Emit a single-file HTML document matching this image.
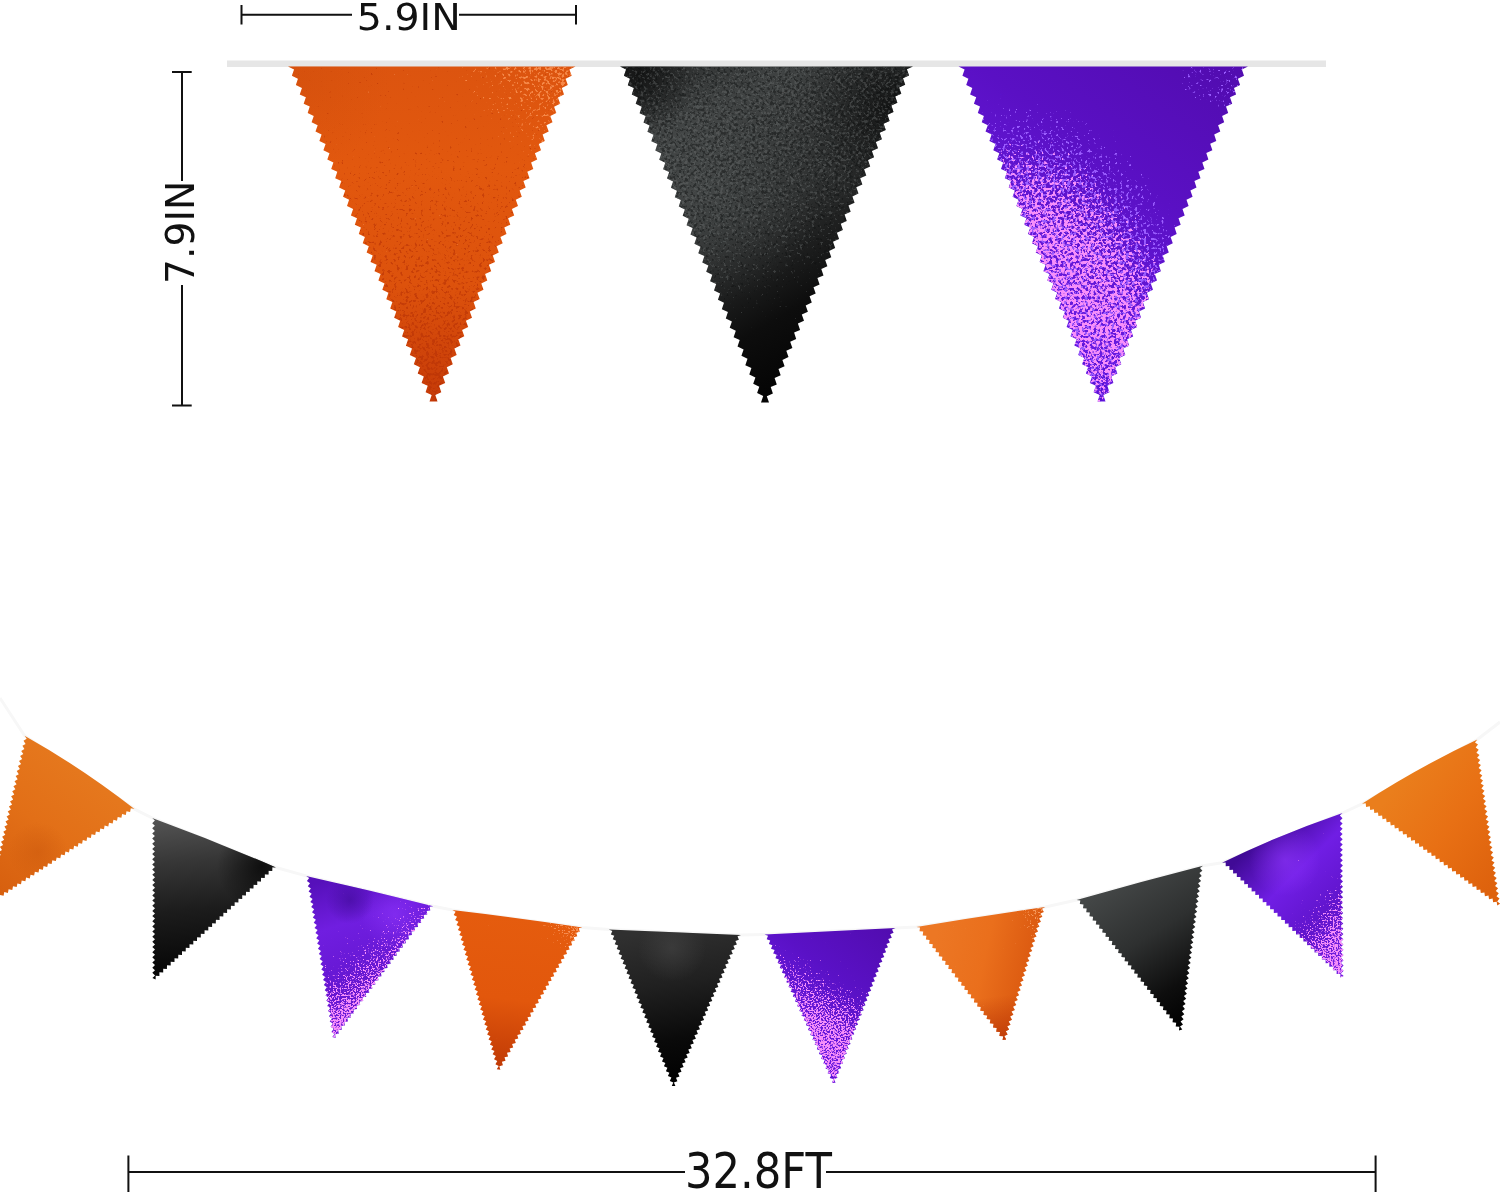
<!DOCTYPE html>
<html lang="en"><head><meta charset="utf-8"><title>Halloween pennant banner size</title>
<style>
html,body{margin:0;padding:0;background:#fff}
body{width:1500px;height:1195px;overflow:hidden;font-family:"DejaVu Sans","Liberation Sans",sans-serif}
svg{display:block}
text{font-family:"DejaVu Sans","Liberation Sans",sans-serif;fill:#111}
.ln{stroke:#111;stroke-width:2;fill:none}
</style></head><body>
<svg width="1500" height="1195" viewBox="0 0 1500 1195">
<defs>
<filter id="spkA" x="0" y="0" width="100%" height="100%" color-interpolation-filters="sRGB"><feTurbulence type="fractalNoise" baseFrequency="0.34" numOctaves="2" seed="7" result="n"/><feColorMatrix in="n" type="matrix" values="0 0 0 0 0  0 0 0 0 0  0 0 0 0 0  1 0 0 0 0" result="na"/><feComposite in="SourceAlpha" in2="na" operator="arithmetic" k1="0" k2="1" k3="1.0" k4="-0.5" result="t"/><feComponentTransfer in="t" result="th"><feFuncA type="linear" slope="9" intercept="-4"/></feComponentTransfer><feColorMatrix in="SourceGraphic" type="matrix" values="1 0 0 0 0  0 1 0 0 0  0 0 1 0 0  0 0 0 100 0" result="solid"/><feComposite in="solid" in2="th" operator="in"/></filter>
<filter id="spkB" x="0" y="0" width="100%" height="100%" color-interpolation-filters="sRGB"><feTurbulence type="fractalNoise" baseFrequency="0.34" numOctaves="2" seed="21" result="n"/><feColorMatrix in="n" type="matrix" values="0 0 0 0 0  0 0 0 0 0  0 0 0 0 0  1 0 0 0 0" result="na"/><feComposite in="SourceAlpha" in2="na" operator="arithmetic" k1="0" k2="1" k3="1.0" k4="-0.5" result="t"/><feComponentTransfer in="t" result="th"><feFuncA type="linear" slope="9" intercept="-4"/></feComponentTransfer><feColorMatrix in="SourceGraphic" type="matrix" values="1 0 0 0 0  0 1 0 0 0  0 0 1 0 0  0 0 0 100 0" result="solid"/><feComposite in="solid" in2="th" operator="in"/></filter>
<filter id="spkS" x="0" y="0" width="100%" height="100%" color-interpolation-filters="sRGB"><feTurbulence type="fractalNoise" baseFrequency="0.6" numOctaves="2" seed="11" result="n"/><feColorMatrix in="n" type="matrix" values="0 0 0 0 0  0 0 0 0 0  0 0 0 0 0  1 0 0 0 0" result="na"/><feComposite in="SourceAlpha" in2="na" operator="arithmetic" k1="0" k2="1" k3="1.0" k4="-0.5" result="t"/><feComponentTransfer in="t" result="th"><feFuncA type="linear" slope="9" intercept="-4"/></feComponentTransfer><feColorMatrix in="SourceGraphic" type="matrix" values="1 0 0 0 0  0 1 0 0 0  0 0 1 0 0  0 0 0 100 0" result="solid"/><feComposite in="solid" in2="th" operator="in"/></filter>
<filter id="spkW" x="0" y="0" width="100%" height="100%" color-interpolation-filters="sRGB"><feTurbulence type="fractalNoise" baseFrequency="0.34" numOctaves="2" seed="7" result="n"/><feColorMatrix in="n" type="matrix" values="0 0 0 0 0  0 0 0 0 0  0 0 0 0 0  1 0 0 0 0" result="na"/><feComposite in="SourceAlpha" in2="na" operator="arithmetic" k1="0" k2="1" k3="1.35" k4="-0.675" result="t"/><feComponentTransfer in="t" result="th"><feFuncA type="linear" slope="9" intercept="-4"/></feComponentTransfer><feColorMatrix in="SourceGraphic" type="matrix" values="1 0 0 0 0  0 1 0 0 0  0 0 1 0 0  0 0 0 100 0" result="solid"/><feComposite in="solid" in2="th" operator="in"/></filter>
<filter id="spkV" x="0" y="0" width="100%" height="100%" color-interpolation-filters="sRGB"><feTurbulence type="fractalNoise" baseFrequency="0.34" numOctaves="2" seed="33" result="n"/><feColorMatrix in="n" type="matrix" values="0 0 0 0 0  0 0 0 0 0  0 0 0 0 0  1 0 0 0 0" result="na"/><feComposite in="SourceAlpha" in2="na" operator="arithmetic" k1="0" k2="1" k3="1.35" k4="-0.675" result="t"/><feComponentTransfer in="t" result="th"><feFuncA type="linear" slope="9" intercept="-4"/></feComponentTransfer><feColorMatrix in="SourceGraphic" type="matrix" values="1 0 0 0 0  0 1 0 0 0  0 0 1 0 0  0 0 0 100 0" result="solid"/><feComposite in="solid" in2="th" operator="in"/></filter>
<path id="b1" d="M288.0 66.5L575.5 66.5L569.4 69.4L571.7 75.8L565.6 78.7L567.8 85.1L561.8 88.0L564.0 94.4L557.9 97.4L560.2 103.7L554.1 106.7L556.3 113.0L550.3 116.0L552.5 122.3L546.4 125.3L548.7 131.6L542.6 134.6L544.8 140.9L538.8 143.9L541.0 150.2L534.9 153.2L537.2 159.5L531.1 162.5L533.3 168.9L527.3 171.8L529.5 178.2L523.4 181.1L525.7 187.5L519.6 190.4L521.8 196.8L515.8 199.7L518.0 206.1L511.9 209.0L514.2 215.4L508.1 218.3L510.3 224.7L504.3 227.6L506.5 234.0L500.4 236.9L502.7 243.3L496.6 246.2L498.8 252.6L492.8 255.5L495.0 261.9L488.9 264.8L491.2 271.2L485.1 274.1L487.3 280.5L481.3 283.5L483.5 289.8L477.4 292.8L479.7 299.1L473.6 302.1L475.8 308.4L469.8 311.4L472.0 317.7L465.9 320.7L468.2 327.0L462.1 330.0L464.3 336.3L458.3 339.3L460.5 345.6L454.4 348.6L456.7 355.0L450.6 357.9L452.8 364.3L446.8 367.2L449.0 373.6L442.9 376.5L445.2 382.9L439.1 385.8L441.3 392.2L435.3 395.1L437.5 401.5L429.5 401.5L431.7 395.1L425.6 392.2L427.7 385.8L421.6 382.9L423.8 376.5L417.7 373.6L419.9 367.2L413.8 364.3L416.0 357.9L409.8 355.0L412.0 348.6L405.9 345.7L408.1 339.3L402.0 336.4L404.2 330.0L398.1 327.1L400.2 320.7L394.1 317.8L396.3 311.4L390.2 308.5L392.4 302.1L386.3 299.2L388.4 292.7L382.3 289.8L384.5 283.4L378.4 280.5L380.6 274.1L374.5 271.2L376.7 264.8L370.5 261.9L372.7 255.5L366.6 252.6L368.8 246.2L362.7 243.3L364.9 236.9L358.8 234.0L360.9 227.6L354.8 224.7L357.0 218.3L350.9 215.4L353.1 209.0L347.0 206.1L349.1 199.7L343.0 196.8L345.2 190.4L339.1 187.5L341.3 181.1L335.2 178.2L337.3 171.8L331.2 168.9L333.4 162.5L327.3 159.6L329.5 153.2L323.4 150.3L325.6 143.9L319.4 140.9L321.6 134.5L315.5 131.6L317.7 125.2L311.6 122.3L313.8 115.9L307.7 113.0L309.8 106.6L303.7 103.7L305.9 97.3L299.8 94.4L302.0 88.0L295.9 85.1L298.0 78.7L291.9 75.8L294.1 69.4Z"/>
<linearGradient id="b1g" gradientUnits="userSpaceOnUse" x1="433.0" y1="66.0" x2="433.0" y2="402.0"><stop offset="0" stop-color="#dc540f"/><stop offset=".3" stop-color="#e2580e"/><stop offset=".65" stop-color="#dd520c"/><stop offset="1" stop-color="#c53a08"/></linearGradient>
<radialGradient id="b1o0" gradientUnits="userSpaceOnUse" cx="300.0" cy="80.0" r="90.0"><stop offset="0" stop-color="#c84a0a" stop-opacity=".3"/><stop offset="1" stop-color="#c84a0a" stop-opacity="0"/></radialGradient>
<linearGradient id="b1k0" gradientUnits="userSpaceOnUse" x1="575.0" y1="66.0" x2="480.0" y2="140.0"><stop offset="0.000" stop-color="#f58848" stop-opacity="0.47"/><stop offset="0.333" stop-color="#f58848" stop-opacity="0.40"/><stop offset="0.667" stop-color="#f58848" stop-opacity="0.28"/><stop offset="1.000" stop-color="#f58848" stop-opacity="0.12"/></linearGradient>
<linearGradient id="b1k1" gradientUnits="userSpaceOnUse" x1="433.0" y1="120.0" x2="433.0" y2="402.0"><stop offset="0.000" stop-color="#b83206" stop-opacity="0.20"/><stop offset="0.250" stop-color="#b83206" stop-opacity="0.30"/><stop offset="0.500" stop-color="#b83206" stop-opacity="0.36"/><stop offset="0.750" stop-color="#b83206" stop-opacity="0.42"/><stop offset="1.000" stop-color="#b83206" stop-opacity="0.47"/></linearGradient>
<clipPath id="b1c"><use href="#b1"/></clipPath>
<path id="b2" d="M620.0 66.5L913.0 66.5L906.9 69.3L909.1 75.6L903.0 78.3L905.2 84.7L899.1 87.4L901.3 93.7L895.2 96.5L897.4 102.8L891.4 105.6L893.5 111.9L887.5 114.7L889.6 121.0L883.6 123.8L885.8 130.1L879.7 132.8L881.9 139.2L875.8 141.9L878.0 148.2L871.9 151.0L874.1 157.3L868.0 160.1L870.2 166.4L864.1 169.2L866.3 175.5L860.2 178.2L862.4 184.6L856.3 187.3L858.5 193.6L852.4 196.4L854.6 202.7L848.5 205.5L850.7 211.8L844.6 214.6L846.8 220.9L840.8 223.7L842.9 230.0L836.9 232.7L839.1 239.0L833.0 241.8L835.2 248.1L829.1 250.9L831.3 257.2L825.2 260.0L827.4 266.3L821.3 269.1L823.5 275.4L817.4 278.1L819.6 284.5L813.5 287.2L815.7 293.5L809.6 296.3L811.8 302.6L805.7 305.4L807.9 311.7L801.8 314.5L804.0 320.8L797.9 323.6L800.1 329.9L794.1 332.6L796.2 338.9L790.2 341.7L792.4 348.0L786.3 350.8L788.5 357.1L782.4 359.9L784.6 366.2L778.5 369.0L780.7 375.3L774.6 378.0L776.8 384.4L770.7 387.1L772.9 393.4L766.8 396.2L769.0 402.5L761.0 402.5L763.2 396.1L757.1 393.1L759.3 386.7L753.2 383.8L755.4 377.4L749.3 374.5L751.4 368.1L745.3 365.2L747.5 358.7L741.4 355.8L743.6 349.4L737.5 346.5L739.7 340.1L733.6 337.2L735.8 330.7L729.7 327.8L731.9 321.4L725.8 318.5L727.9 312.1L721.8 309.2L724.0 302.7L717.9 299.8L720.1 293.4L714.0 290.5L716.2 284.1L710.1 281.2L712.3 274.7L706.2 271.8L708.4 265.4L702.3 262.5L704.4 256.1L698.3 253.2L700.5 246.7L694.4 243.8L696.6 237.4L690.5 234.5L692.7 228.1L686.6 225.2L688.8 218.8L682.7 215.8L684.9 209.4L678.8 206.5L680.9 200.1L674.8 197.2L677.0 190.8L670.9 187.8L673.1 181.4L667.0 178.5L669.2 172.1L663.1 169.2L665.3 162.8L659.2 159.8L661.4 153.4L655.3 150.5L657.4 144.1L651.3 141.2L653.5 134.8L647.4 131.8L649.6 125.4L643.5 122.5L645.7 116.1L639.6 113.2L641.8 106.8L635.7 103.8L637.9 97.4L631.8 94.5L633.9 88.1L627.8 85.2L630.0 78.8L623.9 75.8L626.1 69.4Z"/>
<linearGradient id="b2g" gradientUnits="userSpaceOnUse" x1="650.0" y1="50.0" x2="850.0" y2="390.0"><stop offset="0" stop-color="#2a2c2c"/><stop offset=".22" stop-color="#3f4242"/><stop offset=".5" stop-color="#2e3030"/><stop offset=".75" stop-color="#0d0d0d"/><stop offset="1" stop-color="#000"/></linearGradient>
<radialGradient id="b2o0" gradientUnits="userSpaceOnUse" cx="705.0" cy="190.0" r="115.0"><stop offset="0" stop-color="#505454" stop-opacity=".5"/><stop offset="1" stop-color="#505454" stop-opacity="0"/></radialGradient>
<radialGradient id="b2o1" gradientUnits="userSpaceOnUse" cx="895.0" cy="105.0" r="95.0"><stop offset="0" stop-color="#000" stop-opacity=".6"/><stop offset="1" stop-color="#000" stop-opacity="0"/></radialGradient>
<radialGradient id="b2o2" gradientUnits="userSpaceOnUse" cx="640.0" cy="75.0" r="60.0"><stop offset="0" stop-color="#0a0a0a" stop-opacity=".7"/><stop offset="1" stop-color="#0a0a0a" stop-opacity="0"/></radialGradient>
<linearGradient id="b2k0" gradientUnits="userSpaceOnUse" x1="700.0" y1="66.0" x2="800.0" y2="330.0"><stop offset="0.000" stop-color="#6a6e6e" stop-opacity="0.40"/><stop offset="0.250" stop-color="#6a6e6e" stop-opacity="0.44"/><stop offset="0.500" stop-color="#6a6e6e" stop-opacity="0.42"/><stop offset="0.750" stop-color="#6a6e6e" stop-opacity="0.32"/><stop offset="1.000" stop-color="#6a6e6e" stop-opacity="0.10"/></linearGradient>
<linearGradient id="b2k1" gradientUnits="userSpaceOnUse" x1="700.0" y1="66.0" x2="800.0" y2="330.0"><stop offset="0.000" stop-color="#0c0e0e" stop-opacity="0.40"/><stop offset="0.250" stop-color="#0c0e0e" stop-opacity="0.44"/><stop offset="0.500" stop-color="#0c0e0e" stop-opacity="0.42"/><stop offset="0.750" stop-color="#0c0e0e" stop-opacity="0.32"/><stop offset="1.000" stop-color="#0c0e0e" stop-opacity="0.10"/></linearGradient>
<clipPath id="b2c"><use href="#b2"/></clipPath>
<path id="b3" d="M958.5 66.5L1248.0 66.5L1241.9 69.4L1244.0 75.8L1237.9 78.7L1240.1 85.1L1234.0 88.0L1236.1 94.4L1230.0 97.3L1232.2 103.7L1226.0 106.6L1228.2 113.0L1222.1 115.9L1224.2 122.3L1218.1 125.2L1220.3 131.6L1214.2 134.5L1216.3 140.9L1210.2 143.8L1212.4 150.3L1206.3 153.1L1208.4 159.6L1202.3 162.5L1204.5 168.9L1198.3 171.8L1200.5 178.2L1194.4 181.1L1196.5 187.5L1190.4 190.4L1192.6 196.8L1186.5 199.7L1188.6 206.1L1182.5 209.0L1184.7 215.4L1178.5 218.3L1180.7 224.7L1174.6 227.6L1176.7 234.0L1170.6 236.9L1172.8 243.3L1166.7 246.2L1168.8 252.6L1162.7 255.5L1164.9 261.9L1158.8 264.8L1160.9 271.2L1154.8 274.1L1157.0 280.5L1150.8 283.4L1153.0 289.8L1146.9 292.7L1149.0 299.2L1142.9 302.0L1145.1 308.5L1139.0 311.4L1141.1 317.8L1135.0 320.7L1137.2 327.1L1131.0 330.0L1133.2 336.4L1127.1 339.3L1129.2 345.7L1123.1 348.6L1125.3 355.0L1119.2 357.9L1121.3 364.3L1115.2 367.2L1117.4 373.6L1111.3 376.5L1113.4 382.9L1107.3 385.8L1109.5 392.2L1103.3 395.1L1105.5 401.5L1097.5 401.5L1099.7 395.1L1093.6 392.2L1095.9 385.8L1089.8 382.9L1092.0 376.5L1085.9 373.6L1088.1 367.2L1082.1 364.3L1084.3 357.9L1078.2 355.0L1080.4 348.6L1074.3 345.6L1076.6 339.3L1070.5 336.3L1072.7 330.0L1066.6 327.0L1068.8 320.7L1062.8 317.7L1065.0 311.4L1058.9 308.4L1061.1 302.1L1055.0 299.1L1057.3 292.7L1051.2 289.8L1053.4 283.4L1047.3 280.5L1049.5 274.1L1043.4 271.2L1045.7 264.8L1039.6 261.9L1041.8 255.5L1035.7 252.6L1037.9 246.2L1031.9 243.3L1034.1 236.9L1028.0 234.0L1030.2 227.6L1024.1 224.7L1026.4 218.3L1020.3 215.4L1022.5 209.0L1016.4 206.1L1018.6 199.7L1012.6 196.8L1014.8 190.4L1008.7 187.5L1010.9 181.1L1004.8 178.2L1007.1 171.8L1001.0 168.9L1003.2 162.5L997.1 159.5L999.3 153.2L993.3 150.2L995.5 143.9L989.4 140.9L991.6 134.6L985.5 131.6L987.8 125.3L981.7 122.3L983.9 116.0L977.8 113.0L980.0 106.6L973.9 103.7L976.2 97.3L970.1 94.4L972.3 88.0L966.2 85.1L968.4 78.7L962.4 75.8L964.6 69.4Z"/>
<linearGradient id="b3g" gradientUnits="userSpaceOnUse" x1="1230.0" y1="70.0" x2="1040.0" y2="330.0"><stop offset="0" stop-color="#520cb0"/><stop offset=".45" stop-color="#5a10c4"/><stop offset="1" stop-color="#6a1ce4"/></linearGradient>
<radialGradient id="b3k0" gradientUnits="userSpaceOnUse" cx="0" cy="0" r="1" gradientTransform="translate(1066.0 295.0) rotate(65.7) scale(215.0 140.0)"><stop offset="0" stop-color="#9a5cff" stop-opacity="0.42"/><stop offset="0.6" stop-color="#9a5cff" stop-opacity="0.42"/><stop offset="0.8" stop-color="#9a5cff" stop-opacity="0.3"/><stop offset="0.92" stop-color="#9a5cff" stop-opacity="0.15"/><stop offset="1" stop-color="#9a5cff" stop-opacity="0"/></radialGradient>
<radialGradient id="b3k1" gradientUnits="userSpaceOnUse" cx="0" cy="0" r="1" gradientTransform="translate(1060.0 310.0) rotate(65.7) scale(190.0 120.0)"><stop offset="0" stop-color="#f78ffa" stop-opacity="0.52"/><stop offset="0.45" stop-color="#f78ffa" stop-opacity="0.515"/><stop offset="0.65" stop-color="#f78ffa" stop-opacity="0.45"/><stop offset="0.8" stop-color="#f78ffa" stop-opacity="0.34"/><stop offset="0.92" stop-color="#f78ffa" stop-opacity="0.18"/><stop offset="1" stop-color="#f78ffa" stop-opacity="0"/></radialGradient>
<linearGradient id="b3k2" gradientUnits="userSpaceOnUse" x1="1100.0" y1="320.0" x2="1100.0" y2="402.0"><stop offset="0.000" stop-color="#5a14d4" stop-opacity="0.10"/><stop offset="0.333" stop-color="#5a14d4" stop-opacity="0.30"/><stop offset="0.667" stop-color="#5a14d4" stop-opacity="0.42"/><stop offset="1.000" stop-color="#5a14d4" stop-opacity="0.50"/></linearGradient>
<radialGradient id="b3k3" gradientUnits="userSpaceOnUse" cx="0" cy="0" r="1" gradientTransform="translate(1222.0 84.0) rotate(10.0) scale(60.0 34.0)"><stop offset="0" stop-color="#9a5cff" stop-opacity="0.36"/><stop offset="0.6" stop-color="#9a5cff" stop-opacity="0.28"/><stop offset="1" stop-color="#9a5cff" stop-opacity="0"/></radialGradient>
<clipPath id="b3c"><use href="#b3"/></clipPath>
<path id="s0" d="M24.6 735.7Q82.3 768.2 134.5 809.1L130.8 808.3L130.1 812.0L126.5 811.2L125.8 814.9L122.1 814.1L121.4 817.8L117.7 817.0L117.0 820.7L113.4 819.8L112.7 823.5L109.0 822.7L108.3 826.4L104.6 825.6L104.0 829.3L100.3 828.5L99.6 832.2L95.9 831.4L95.2 835.1L91.5 834.3L90.9 838.0L87.2 837.2L86.5 840.9L82.8 840.1L82.1 843.8L78.5 843.0L77.8 846.7L74.1 845.8L73.4 849.5L69.7 848.7L69.0 852.4L65.4 851.6L64.7 855.3L61.0 854.5L60.3 858.2L56.6 857.4L55.9 861.1L52.3 860.3L51.6 864.0L47.9 863.2L47.2 866.9L43.5 866.1L42.9 869.8L39.2 869.0L38.5 872.6L34.8 871.8L34.1 875.5L30.5 874.7L29.8 878.4L26.1 877.6L25.4 881.3L21.7 880.5L21.0 884.2L17.4 883.4L16.7 887.1L13.0 886.3L12.3 890.0L8.6 889.2L7.9 892.9L4.3 892.1L3.6 895.8L-0.1 895.0L-0.8 898.6L-4.5 897.8L-5.2 901.5L-8.8 900.7L-9.5 904.4L-12.5 902.4L-9.3 900.4L-11.4 897.3L-8.2 895.4L-10.2 892.3L-7.0 890.3L-9.1 887.2L-5.9 885.3L-8.0 882.2L-4.8 880.2L-6.9 877.1L-3.7 875.2L-5.7 872.1L-2.5 870.1L-4.6 867.0L-1.4 865.1L-3.5 862.0L-0.3 860.0L-2.4 856.9L0.8 855.0L-1.2 851.9L2.0 849.9L-0.1 846.8L3.1 844.9L1.0 841.8L4.2 839.8L2.1 836.7L5.3 834.8L3.3 831.7L6.4 829.7L4.4 826.6L7.6 824.7L5.5 821.6L8.7 819.6L6.6 816.5L9.8 814.6L7.7 811.5L10.9 809.5L8.9 806.4L12.1 804.5L10.0 801.4L13.2 799.4L11.1 796.3L14.3 794.4L12.2 791.3L15.4 789.3L13.4 786.2L16.6 784.3L14.5 781.2L17.7 779.2L15.6 776.1L18.8 774.2L16.7 771.1L19.9 769.1L17.9 766.0L21.1 764.1L19.0 761.0L22.2 759.0L20.1 755.9L23.3 754.0L21.2 750.9L24.4 748.9L22.4 745.8L25.6 743.9L23.5 740.8L26.7 738.8Z"/>
<linearGradient id="s0g" gradientUnits="userSpaceOnUse" x1="100.0" y1="760.0" x2="-5.0" y2="900.0"><stop offset="0" stop-color="#e67a1f"/><stop offset=".5" stop-color="#e26f17"/><stop offset="1" stop-color="#d65e0e"/></linearGradient>
<radialGradient id="s0o0" gradientUnits="userSpaceOnUse" cx="38.0" cy="852.0" r="30.0"><stop offset="0" stop-color="#c9560c" stop-opacity=".45"/><stop offset="1" stop-color="#c9560c" stop-opacity="0"/></radialGradient>
<path id="s1" d="M152.2 818.0Q214.8 840.9 276.0 867.5L272.3 867.3L272.2 871.0L268.5 870.8L268.5 874.5L264.8 874.3L264.7 878.0L261.0 877.8L261.0 881.5L257.2 881.3L257.2 885.0L253.5 884.8L253.4 888.5L249.7 888.3L249.7 892.0L246.0 891.8L245.9 895.5L242.2 895.3L242.2 899.0L238.4 898.8L238.4 902.5L234.7 902.2L234.6 906.0L230.9 905.7L230.9 909.5L227.1 909.2L227.1 913.0L223.4 912.7L223.3 916.5L219.6 916.2L219.6 920.0L215.9 919.7L215.8 923.5L212.1 923.2L212.1 927.0L208.3 926.7L208.3 930.5L204.6 930.2L204.5 934.0L200.8 933.7L200.8 937.5L197.1 937.2L197.0 941.0L193.3 940.7L193.3 944.5L189.5 944.2L189.5 947.9L185.8 947.7L185.7 951.4L182.0 951.2L182.0 954.9L178.3 954.7L178.2 958.4L174.5 958.2L174.5 961.9L170.7 961.7L170.7 965.4L167.0 965.2L166.9 968.9L163.2 968.7L163.2 972.4L159.4 972.2L159.4 975.9L155.7 975.7L155.6 979.4L152.4 978.0L155.1 975.4L152.3 972.8L155.0 970.2L152.3 967.7L155.0 965.1L152.3 962.5L155.0 959.9L152.3 957.3L155.0 954.7L152.3 952.2L155.0 949.6L152.3 947.0L155.0 944.4L152.3 941.8L155.0 939.3L152.3 936.7L155.0 934.1L152.3 931.5L155.0 928.9L152.3 926.4L155.0 923.8L152.3 921.2L155.0 918.6L152.3 916.0L155.0 913.5L152.3 910.9L155.0 908.3L152.3 905.7L155.0 903.1L152.3 900.6L155.0 898.0L152.3 895.4L155.0 892.8L152.3 890.2L155.0 887.7L152.3 885.1L155.0 882.5L152.3 879.9L155.0 877.3L152.3 874.8L155.0 872.2L152.2 869.6L154.9 867.0L152.2 864.4L154.9 861.9L152.2 859.3L154.9 856.7L152.2 854.1L154.9 851.5L152.2 849.0L154.9 846.4L152.2 843.8L154.9 841.2L152.2 838.6L154.9 836.1L152.2 833.5L154.9 830.9L152.2 828.3L154.9 825.7L152.2 823.2L154.9 820.6Z"/>
<linearGradient id="s1g" gradientUnits="userSpaceOnUse" x1="170.0" y1="815.0" x2="185.0" y2="975.0"><stop offset="0" stop-color="#565656"/><stop offset=".3" stop-color="#363636"/><stop offset=".6" stop-color="#1c1c1c"/><stop offset="1" stop-color="#050505"/></linearGradient>
<radialGradient id="s1o0" gradientUnits="userSpaceOnUse" cx="262.0" cy="866.0" r="45.0"><stop offset="0" stop-color="#000" stop-opacity=".7"/><stop offset="1" stop-color="#000" stop-opacity="0"/></radialGradient>
<path id="s2" d="M306.1 875.9Q370.0 890.1 433.4 906.3L429.7 906.7L430.3 910.4L426.7 910.9L427.3 914.5L423.6 915.0L424.2 918.6L420.6 919.1L421.2 922.8L417.5 923.2L418.1 926.9L414.4 927.3L415.1 931.0L411.4 931.4L412.0 935.1L408.3 935.5L409.0 939.2L405.3 939.7L405.9 943.3L402.2 943.8L402.9 947.4L399.2 947.9L399.8 951.5L396.1 952.0L396.8 955.7L393.1 956.1L393.7 959.8L390.0 960.2L390.7 963.9L387.0 964.3L387.6 968.0L383.9 968.4L384.6 972.1L380.9 972.6L381.5 976.2L377.8 976.7L378.5 980.3L374.8 980.8L375.4 984.5L371.7 984.9L372.4 988.6L368.7 989.0L369.3 992.7L365.6 993.1L366.3 996.8L362.6 997.2L363.2 1000.9L359.5 1001.4L360.2 1005.0L356.5 1005.5L357.1 1009.1L353.4 1009.6L354.1 1013.2L350.4 1013.7L351.0 1017.4L347.3 1017.8L348.0 1021.5L344.3 1021.9L344.9 1025.6L341.2 1026.0L341.9 1029.7L338.2 1030.1L338.8 1033.8L335.1 1034.3L335.7 1037.9L332.3 1037.1L334.5 1034.0L331.4 1031.9L333.7 1028.8L330.6 1026.7L332.8 1023.6L329.7 1021.5L332.0 1018.4L328.9 1016.3L331.1 1013.2L328.0 1011.1L330.3 1008.0L327.2 1005.9L329.4 1002.8L326.3 1000.7L328.6 997.6L325.5 995.5L327.7 992.4L324.7 990.3L326.9 987.2L323.8 985.1L326.1 982.0L323.0 979.9L325.2 976.9L322.1 974.7L324.4 971.7L321.3 969.5L323.5 966.5L320.4 964.3L322.7 961.3L319.6 959.1L321.8 956.1L318.8 953.9L321.0 950.9L317.9 948.7L320.2 945.7L317.1 943.5L319.3 940.5L316.2 938.3L318.5 935.3L315.4 933.1L317.6 930.1L314.5 927.9L316.8 924.9L313.7 922.7L315.9 919.7L312.8 917.5L315.1 914.5L312.0 912.3L314.2 909.3L311.2 907.1L313.4 904.1L310.3 901.9L312.6 898.9L309.5 896.7L311.7 893.7L308.6 891.5L310.9 888.5L307.8 886.3L310.0 883.3L306.9 881.1L309.2 878.1Z"/>
<linearGradient id="s2g" gradientUnits="userSpaceOnUse" x1="325.0" y1="880.0" x2="375.0" y2="1030.0"><stop offset="0" stop-color="#5610ba"/><stop offset=".3" stop-color="#701ee0"/><stop offset=".7" stop-color="#6416d0"/><stop offset="1" stop-color="#7020e0"/></linearGradient>
<radialGradient id="s2o0" gradientUnits="userSpaceOnUse" cx="395.0" cy="915.0" r="34.0"><stop offset="0" stop-color="#9238ff" stop-opacity=".5"/><stop offset="1" stop-color="#9238ff" stop-opacity="0"/></radialGradient>
<radialGradient id="s2o1" gradientUnits="userSpaceOnUse" cx="350.0" cy="900.0" r="24.0"><stop offset="0" stop-color="#3e0a96" stop-opacity=".6"/><stop offset="1" stop-color="#3e0a96" stop-opacity="0"/></radialGradient>
<linearGradient id="s2k0" gradientUnits="userSpaceOnUse" x1="335.0" y1="925.0" x2="395.0" y2="1010.0"><stop offset="0.000" stop-color="#f78ffa" stop-opacity="0.10"/><stop offset="0.250" stop-color="#f78ffa" stop-opacity="0.22"/><stop offset="0.500" stop-color="#f78ffa" stop-opacity="0.40"/><stop offset="0.750" stop-color="#f78ffa" stop-opacity="0.54"/><stop offset="1.000" stop-color="#f78ffa" stop-opacity="0.60"/></linearGradient>
<clipPath id="s2c"><use href="#s2"/></clipPath>
<path id="s3" d="M452.3 910.0Q517.5 917.7 582.4 927.4L578.8 928.3L579.8 931.8L576.2 932.7L577.3 936.3L573.7 937.2L574.7 940.7L571.1 941.6L572.1 945.2L568.5 946.1L569.6 949.6L566.0 950.5L567.0 954.1L563.4 955.0L564.5 958.5L560.8 959.4L561.9 963.0L558.3 963.9L559.3 967.4L555.7 968.3L556.8 971.9L553.1 972.8L554.2 976.3L550.6 977.2L551.6 980.8L548.0 981.6L549.1 985.2L545.5 986.1L546.5 989.7L542.9 990.5L544.0 994.1L540.3 995.0L541.4 998.6L537.8 999.4L538.8 1003.0L535.2 1003.9L536.3 1007.5L532.6 1008.3L533.7 1011.9L530.1 1012.8L531.1 1016.4L527.5 1017.2L528.6 1020.8L525.0 1021.7L526.0 1025.2L522.4 1026.1L523.5 1029.7L519.8 1030.6L520.9 1034.1L517.3 1035.0L518.3 1038.6L514.7 1039.5L515.8 1043.0L512.1 1043.9L513.2 1047.5L509.6 1048.4L510.6 1051.9L507.0 1052.8L508.1 1056.4L504.5 1057.3L505.5 1060.8L501.9 1061.7L502.9 1065.3L499.3 1066.2L500.4 1069.7L496.8 1069.3L498.7 1066.1L495.4 1064.3L497.3 1061.1L494.0 1059.3L495.9 1056.1L492.6 1054.3L494.5 1051.1L491.2 1049.4L493.2 1046.2L489.9 1044.4L491.8 1041.2L488.5 1039.4L490.4 1036.2L487.1 1034.4L489.0 1031.2L485.7 1029.5L487.6 1026.2L484.3 1024.5L486.2 1021.3L482.9 1019.5L484.8 1016.3L481.5 1014.5L483.4 1011.3L480.1 1009.5L482.0 1006.3L478.7 1004.6L480.6 1001.4L477.3 999.6L479.2 996.4L475.9 994.6L477.9 991.4L474.6 989.6L476.5 986.4L473.2 984.7L475.1 981.4L471.8 979.7L473.7 976.5L470.4 974.7L472.3 971.5L469.0 969.7L470.9 966.5L467.6 964.8L469.5 961.5L466.2 959.8L468.1 956.6L464.8 954.8L466.7 951.6L463.4 949.8L465.3 946.6L462.0 944.8L463.9 941.6L460.6 939.9L462.6 936.6L459.3 934.9L461.2 931.7L457.9 929.9L459.8 926.7L456.5 924.9L458.4 921.7L455.1 920.0L457.0 916.7L453.7 915.0L455.6 911.8Z"/>
<linearGradient id="s3g" gradientUnits="userSpaceOnUse" x1="517.0" y1="915.0" x2="500.0" y2="1068.0"><stop offset="0" stop-color="#e55c0e"/><stop offset=".55" stop-color="#e2570c"/><stop offset="1" stop-color="#c03a06"/></linearGradient>
<linearGradient id="s3k0" gradientUnits="userSpaceOnUse" x1="581.0" y1="928.0" x2="552.0" y2="955.0"><stop offset="0.000" stop-color="#f79055" stop-opacity="0.50"/><stop offset="0.500" stop-color="#f79055" stop-opacity="0.32"/><stop offset="1.000" stop-color="#f79055" stop-opacity="0.10"/></linearGradient>
<clipPath id="s3c"><use href="#s3"/></clipPath>
<path id="s4" d="M608.8 929.5L741.0 935.0L737.5 936.3L738.9 939.7L735.4 941.0L736.9 944.4L733.4 945.7L734.8 949.1L731.3 950.4L732.8 953.9L729.3 955.1L730.7 958.6L727.2 959.9L728.7 963.3L725.2 964.6L726.6 968.0L723.1 969.3L724.6 972.7L721.1 974.0L722.5 977.4L719.0 978.7L720.5 982.2L717.0 983.4L718.4 986.9L714.9 988.2L716.4 991.6L712.9 992.9L714.3 996.3L710.8 997.6L712.3 1001.0L708.8 1002.3L710.2 1005.7L706.7 1007.0L708.2 1010.5L704.7 1011.7L706.1 1015.2L702.6 1016.5L704.1 1019.9L700.6 1021.2L702.0 1024.6L698.5 1025.9L700.0 1029.3L696.5 1030.6L697.9 1034.0L694.4 1035.3L695.9 1038.8L692.4 1040.0L693.8 1043.5L690.3 1044.8L691.8 1048.2L688.3 1049.5L689.7 1052.9L686.2 1054.2L687.7 1057.6L684.2 1058.9L685.6 1062.3L682.1 1063.6L683.6 1067.1L680.1 1068.3L681.5 1071.8L678.0 1073.0L679.5 1076.5L676.0 1077.8L677.4 1081.2L673.9 1082.5L675.4 1085.9L671.8 1085.9L673.3 1082.4L669.8 1081.0L671.4 1077.5L667.9 1076.1L669.4 1072.7L665.9 1071.2L667.4 1067.8L663.9 1066.3L665.4 1062.9L662.0 1061.4L663.5 1058.0L660.0 1056.6L661.5 1053.1L658.0 1051.7L659.5 1048.2L656.1 1046.8L657.6 1043.3L654.1 1041.9L655.6 1038.4L652.1 1037.0L653.6 1033.6L650.1 1032.1L651.7 1028.7L648.2 1027.2L649.7 1023.8L646.2 1022.4L647.7 1018.9L644.2 1017.5L645.8 1014.0L642.3 1012.6L643.8 1009.1L640.3 1007.7L641.8 1004.2L638.3 1002.8L639.9 999.4L636.4 997.9L637.9 994.5L634.4 993.0L635.9 989.6L632.4 988.1L633.9 984.7L630.5 983.3L632.0 979.8L628.5 978.4L630.0 974.9L626.5 973.5L628.0 970.0L624.6 968.6L626.1 965.1L622.6 963.7L624.1 960.3L620.6 958.8L622.1 955.4L618.6 953.9L620.2 950.5L616.7 949.0L618.2 945.6L614.7 944.2L616.2 940.7L612.7 939.3L614.3 935.8L610.8 934.4L612.3 930.9Z"/>
<linearGradient id="s4g" gradientUnits="userSpaceOnUse" x1="660.0" y1="930.0" x2="685.0" y2="1085.0"><stop offset="0" stop-color="#303030"/><stop offset=".35" stop-color="#202020"/><stop offset=".7" stop-color="#0a0a0a"/><stop offset="1" stop-color="#000"/></linearGradient>
<radialGradient id="s4o0" gradientUnits="userSpaceOnUse" cx="672.0" cy="948.0" r="34.0"><stop offset="0" stop-color="#4a4a4a" stop-opacity=".5"/><stop offset="1" stop-color="#4a4a4a" stop-opacity="0"/></radialGradient>
<path id="s5" d="M764.5 934.4L895.5 928.0L892.0 929.4L893.6 932.8L890.2 934.3L891.8 937.7L888.3 939.1L889.9 942.5L886.4 943.9L888.0 947.3L884.6 948.8L886.1 952.2L882.7 953.6L884.3 957.0L880.8 958.4L882.4 961.8L878.9 963.3L880.5 966.7L877.1 968.1L878.7 971.5L875.2 972.9L876.8 976.3L873.3 977.8L874.9 981.2L871.5 982.6L873.0 986.0L869.6 987.4L871.2 990.8L867.7 992.3L869.3 995.7L865.8 997.1L867.4 1000.5L864.0 1001.9L865.5 1005.3L862.1 1006.8L863.7 1010.2L860.2 1011.6L861.8 1015.0L858.4 1016.4L859.9 1019.8L856.5 1021.3L858.1 1024.7L854.6 1026.1L856.2 1029.5L852.7 1030.9L854.3 1034.3L850.9 1035.8L852.4 1039.2L849.0 1040.6L850.6 1044.0L847.1 1045.4L848.7 1048.8L845.2 1050.3L846.8 1053.7L843.4 1055.1L845.0 1058.5L841.5 1059.9L843.1 1063.3L839.6 1064.8L841.2 1068.2L837.8 1069.6L839.3 1073.0L835.9 1074.4L837.5 1077.8L834.0 1079.3L835.6 1082.7L832.0 1082.7L833.4 1079.2L829.8 1078.0L831.2 1074.4L827.6 1073.2L829.0 1069.7L825.5 1068.4L826.8 1064.9L823.3 1063.6L824.7 1060.1L821.1 1058.8L822.5 1055.3L818.9 1054.0L820.3 1050.5L816.8 1049.2L818.1 1045.7L814.6 1044.5L815.9 1041.0L812.4 1039.7L813.8 1036.2L810.2 1034.9L811.6 1031.4L808.0 1030.1L809.4 1026.6L805.9 1025.3L807.2 1021.8L803.7 1020.5L805.1 1017.0L801.5 1015.8L802.9 1012.2L799.3 1011.0L800.7 1007.5L797.2 1006.2L798.5 1002.7L795.0 1001.4L796.4 997.9L792.8 996.6L794.2 993.1L790.6 991.8L792.0 988.3L788.5 987.0L789.8 983.5L786.3 982.3L787.6 978.7L784.1 977.5L785.5 974.0L781.9 972.7L783.3 969.2L779.7 967.9L781.1 964.4L777.6 963.1L778.9 959.6L775.4 958.3L776.8 954.8L773.2 953.5L774.6 950.0L771.0 948.8L772.4 945.2L768.9 944.0L770.2 940.5L766.7 939.2L768.0 935.7Z"/>
<linearGradient id="s5g" gradientUnits="userSpaceOnUse" x1="890.0" y1="930.0" x2="800.0" y2="1040.0"><stop offset="0" stop-color="#520cb0"/><stop offset=".5" stop-color="#5a11c6"/><stop offset="1" stop-color="#6a1ce4"/></linearGradient>
<linearGradient id="s5k0" gradientUnits="userSpaceOnUse" x1="834.0" y1="959.0" x2="798.0" y2="1031.0"><stop offset="0.000" stop-color="#f78ffa" stop-opacity="0.12"/><stop offset="0.250" stop-color="#f78ffa" stop-opacity="0.28"/><stop offset="0.500" stop-color="#f78ffa" stop-opacity="0.43"/><stop offset="0.750" stop-color="#f78ffa" stop-opacity="0.52"/><stop offset="1.000" stop-color="#f78ffa" stop-opacity="0.54"/></linearGradient>
<linearGradient id="s5k1" gradientUnits="userSpaceOnUse" x1="833.0" y1="1040.0" x2="833.0" y2="1083.0"><stop offset="0.000" stop-color="#5a14d4" stop-opacity="0.10"/><stop offset="0.500" stop-color="#5a14d4" stop-opacity="0.35"/><stop offset="1.000" stop-color="#5a14d4" stop-opacity="0.50"/></linearGradient>
<clipPath id="s5c"><use href="#s5"/></clipPath>
<path id="s6" d="M916.3 927.0Q980.6 916.0 1045.3 907.0L1042.0 908.7L1043.9 911.9L1040.5 913.6L1042.4 916.8L1039.1 918.5L1041.0 921.7L1037.6 923.4L1039.5 926.6L1036.2 928.3L1038.1 931.5L1034.7 933.2L1036.6 936.4L1033.3 938.1L1035.2 941.3L1031.8 943.0L1033.7 946.2L1030.4 947.9L1032.3 951.1L1028.9 952.8L1030.8 956.0L1027.5 957.7L1029.4 960.9L1026.0 962.6L1027.9 965.8L1024.6 967.5L1026.5 970.7L1023.1 972.4L1025.0 975.6L1021.7 977.3L1023.6 980.5L1020.2 982.2L1022.1 985.4L1018.8 987.1L1020.7 990.3L1017.3 992.0L1019.2 995.2L1015.9 996.9L1017.8 1000.1L1014.4 1001.8L1016.3 1005.0L1013.0 1006.7L1014.9 1009.9L1011.5 1011.6L1013.4 1014.8L1010.1 1016.5L1012.0 1019.8L1008.7 1021.4L1010.5 1024.7L1007.2 1026.3L1009.1 1029.6L1005.8 1031.2L1007.6 1034.5L1004.3 1036.1L1006.2 1039.4L1002.6 1040.0L1003.2 1036.3L999.4 1035.9L1000.0 1032.1L996.2 1031.7L996.8 1027.9L993.0 1027.5L993.6 1023.7L989.8 1023.3L990.4 1019.6L986.6 1019.1L987.2 1015.4L983.4 1014.9L984.0 1011.2L980.2 1010.7L980.8 1007.0L977.1 1006.5L977.6 1002.8L973.9 1002.4L974.4 998.6L970.7 998.2L971.2 994.4L967.5 994.0L968.0 990.3L964.3 989.8L964.8 986.1L961.1 985.6L961.6 981.9L957.9 981.4L958.4 977.7L954.7 977.2L955.2 973.5L951.5 973.1L952.0 969.3L948.3 968.9L948.8 965.1L945.1 964.7L945.6 960.9L941.9 960.5L942.4 956.8L938.7 956.3L939.2 952.6L935.5 952.1L936.0 948.4L932.3 947.9L932.8 944.2L929.1 943.7L929.6 940.0L925.9 939.6L926.4 935.8L922.7 935.4L923.2 931.6L919.5 931.2L920.0 927.5Z"/>
<linearGradient id="s6g" gradientUnits="userSpaceOnUse" x1="930.0" y1="960.0" x2="1045.0" y2="985.0"><stop offset="0" stop-color="#ec7724"/><stop offset=".45" stop-color="#ea6f1c"/><stop offset="1" stop-color="#d6520c"/></linearGradient>
<linearGradient id="s6o0" gradientUnits="userSpaceOnUse" x1="990.0" y1="930.0" x2="1004.0" y2="1040.0"><stop offset="0" stop-color="#b83406" stop-opacity="0"/><stop offset=".6" stop-color="#b83406" stop-opacity="0"/><stop offset="1" stop-color="#b83406" stop-opacity=".8"/></linearGradient>
<linearGradient id="s6k0" gradientUnits="userSpaceOnUse" x1="1044.0" y1="908.0" x2="1015.0" y2="935.0"><stop offset="0.000" stop-color="#f79a5c" stop-opacity="0.48"/><stop offset="0.500" stop-color="#f79a5c" stop-opacity="0.30"/><stop offset="1.000" stop-color="#f79a5c" stop-opacity="0.10"/></linearGradient>
<clipPath id="s6c"><use href="#s6"/></clipPath>
<path id="s7" d="M1076.6 900.0Q1139.5 881.9 1203.0 865.7L1200.0 867.9L1202.4 870.8L1199.4 873.0L1201.7 875.9L1198.7 878.2L1201.1 881.1L1198.1 883.3L1200.4 886.2L1197.4 888.4L1199.8 891.3L1196.8 893.5L1199.1 896.4L1196.1 898.6L1198.5 901.5L1195.5 903.8L1197.8 906.7L1194.8 908.9L1197.2 911.8L1194.2 914.0L1196.5 916.9L1193.5 919.1L1195.9 922.0L1192.9 924.2L1195.3 927.1L1192.2 929.4L1194.6 932.3L1191.6 934.5L1194.0 937.4L1191.0 939.6L1193.3 942.5L1190.3 944.7L1192.7 947.6L1189.7 949.8L1192.0 952.7L1189.0 955.0L1191.4 957.8L1188.4 960.1L1190.7 963.0L1187.7 965.2L1190.1 968.1L1187.1 970.3L1189.4 973.2L1186.4 975.4L1188.8 978.3L1185.8 980.5L1188.1 983.4L1185.1 985.7L1187.5 988.6L1184.5 990.8L1186.9 993.7L1183.9 995.9L1186.2 998.8L1183.2 1001.0L1185.6 1003.9L1182.6 1006.1L1184.9 1009.0L1181.9 1011.3L1184.3 1014.2L1181.3 1016.4L1183.6 1019.3L1180.6 1021.5L1183.0 1024.4L1180.0 1026.6L1182.3 1029.5L1178.9 1030.5L1179.4 1026.8L1175.7 1026.4L1176.2 1022.7L1172.5 1022.3L1173.0 1018.6L1169.3 1018.2L1169.8 1014.5L1166.1 1014.2L1166.6 1010.5L1162.9 1010.1L1163.4 1006.4L1159.7 1006.0L1160.2 1002.3L1156.5 1001.9L1157.0 998.2L1153.3 997.9L1153.8 994.2L1150.1 993.8L1150.6 990.1L1146.9 989.7L1147.4 986.0L1143.7 985.6L1144.2 981.9L1140.5 981.6L1141.0 977.8L1137.3 977.5L1137.8 973.8L1134.1 973.4L1134.7 969.7L1130.9 969.3L1131.5 965.6L1127.7 965.2L1128.3 961.5L1124.5 961.2L1125.1 957.5L1121.3 957.1L1121.9 953.4L1118.1 953.0L1118.7 949.3L1114.9 948.9L1115.5 945.2L1111.8 944.9L1112.3 941.1L1108.6 940.8L1109.1 937.1L1105.4 936.7L1105.9 933.0L1102.2 932.6L1102.7 928.9L1099.0 928.5L1099.5 924.8L1095.8 924.5L1096.3 920.8L1092.6 920.4L1093.1 916.7L1089.4 916.3L1089.9 912.6L1086.2 912.2L1086.7 908.5L1083.0 908.2L1083.5 904.5L1079.8 904.1L1080.3 900.4Z"/>
<linearGradient id="s7g" gradientUnits="userSpaceOnUse" x1="1110.0" y1="885.0" x2="1195.0" y2="1020.0"><stop offset="0" stop-color="#444747"/><stop offset=".4" stop-color="#2e3030"/><stop offset=".75" stop-color="#0e0e0e"/><stop offset="1" stop-color="#000"/></linearGradient>
<path id="s8" d="M1222.0 862.7Q1280.7 834.2 1342.5 813.0L1339.8 815.6L1342.5 818.3L1339.9 820.9L1342.6 823.5L1339.9 826.2L1342.6 828.8L1339.9 831.4L1342.6 834.0L1340.0 836.7L1342.7 839.3L1340.0 842.0L1342.7 844.6L1340.0 847.2L1342.8 849.8L1340.1 852.5L1342.8 855.1L1340.1 857.7L1342.8 860.3L1340.2 863.0L1342.9 865.6L1340.2 868.3L1342.9 870.9L1340.2 873.5L1342.9 876.1L1340.3 878.8L1343.0 881.4L1340.3 884.0L1343.0 886.7L1340.3 889.3L1343.1 891.9L1340.4 894.6L1343.1 897.2L1340.4 899.8L1343.1 902.4L1340.5 905.1L1343.2 907.7L1340.5 910.3L1343.2 913.0L1340.5 915.6L1343.2 918.2L1340.6 920.9L1343.3 923.5L1340.6 926.1L1343.3 928.7L1340.6 931.4L1343.4 934.0L1340.7 936.7L1343.4 939.3L1340.7 941.9L1343.4 944.5L1340.7 947.2L1343.5 949.8L1340.8 952.4L1343.5 955.0L1340.8 957.7L1343.5 960.3L1340.9 963.0L1343.6 965.6L1340.9 968.2L1343.6 970.8L1340.9 973.5L1343.7 976.1L1340.3 977.5L1340.4 973.8L1336.6 973.9L1336.7 970.2L1332.9 970.3L1333.0 966.6L1329.3 966.7L1329.3 963.0L1325.6 963.2L1325.6 959.4L1321.9 959.6L1321.9 955.8L1318.2 956.0L1318.2 952.3L1314.5 952.4L1314.5 948.7L1310.8 948.8L1310.8 945.1L1307.1 945.2L1307.1 941.5L1303.4 941.6L1303.4 937.9L1299.7 938.0L1299.7 934.3L1296.0 934.5L1296.0 930.7L1292.3 930.9L1292.3 927.1L1288.6 927.3L1288.6 923.5L1284.9 923.7L1284.9 920.0L1281.2 920.1L1281.2 916.4L1277.5 916.5L1277.5 912.8L1273.8 912.9L1273.8 909.2L1270.1 909.3L1270.1 905.6L1266.4 905.8L1266.4 902.0L1262.7 902.2L1262.7 898.4L1259.0 898.6L1259.0 894.8L1255.3 895.0L1255.3 891.3L1251.6 891.4L1251.6 887.7L1247.9 887.8L1247.9 884.1L1244.2 884.2L1244.2 880.5L1240.5 880.6L1240.5 876.9L1236.8 877.1L1236.8 873.3L1233.1 873.5L1233.1 869.7L1229.4 869.9L1229.4 866.1L1225.7 866.3L1225.7 862.6Z"/>
<linearGradient id="s8g" gradientUnits="userSpaceOnUse" x1="1240.0" y1="858.0" x2="1340.0" y2="960.0"><stop offset="0" stop-color="#400a96"/><stop offset=".35" stop-color="#701ee4"/><stop offset=".7" stop-color="#6014cc"/><stop offset="1" stop-color="#7020e0"/></linearGradient>
<radialGradient id="s8o0" gradientUnits="userSpaceOnUse" cx="1285.0" cy="860.0" r="36.0"><stop offset="0" stop-color="#9238ff" stop-opacity=".55"/><stop offset="1" stop-color="#9238ff" stop-opacity="0"/></radialGradient>
<linearGradient id="s8k0" gradientUnits="userSpaceOnUse" x1="1290.0" y1="900.0" x2="1345.0" y2="950.0"><stop offset="0.000" stop-color="#f78ffa" stop-opacity="0.10"/><stop offset="0.250" stop-color="#f78ffa" stop-opacity="0.22"/><stop offset="0.500" stop-color="#f78ffa" stop-opacity="0.38"/><stop offset="0.750" stop-color="#f78ffa" stop-opacity="0.50"/><stop offset="1.000" stop-color="#f78ffa" stop-opacity="0.53"/></linearGradient>
<clipPath id="s8c"><use href="#s8"/></clipPath>
<path id="s9" d="M1362.0 803.8Q1417.5 767.7 1477.3 739.5L1475.0 742.4L1478.0 744.6L1475.7 747.6L1478.7 749.8L1476.4 752.7L1479.5 754.9L1477.1 757.8L1480.2 760.0L1477.9 762.9L1480.9 765.1L1478.6 768.1L1481.6 770.3L1479.3 773.2L1482.3 775.4L1480.0 778.3L1483.0 780.5L1480.7 783.5L1483.8 785.6L1481.4 788.6L1484.5 790.8L1482.2 793.7L1485.2 795.9L1482.9 798.8L1485.9 801.0L1483.6 804.0L1486.6 806.2L1484.3 809.1L1487.3 811.3L1485.0 814.2L1488.1 816.4L1485.7 819.4L1488.8 821.5L1486.5 824.5L1489.5 826.7L1487.2 829.6L1490.2 831.8L1487.9 834.7L1490.9 836.9L1488.6 839.9L1491.6 842.0L1489.3 845.0L1492.4 847.2L1490.0 850.1L1493.1 852.3L1490.8 855.2L1493.8 857.4L1491.5 860.4L1494.5 862.6L1492.2 865.5L1495.2 867.7L1492.9 870.6L1495.9 872.8L1493.6 875.8L1496.7 877.9L1494.3 880.9L1497.4 883.1L1495.1 886.0L1498.1 888.2L1495.8 891.1L1498.8 893.3L1496.5 896.3L1499.5 898.5L1497.2 901.4L1500.2 903.6L1497.2 905.4L1496.7 901.7L1493.1 902.3L1492.6 898.6L1489.0 899.3L1488.5 895.6L1484.9 896.2L1484.4 892.5L1480.8 893.1L1480.3 889.4L1476.7 890.0L1476.3 886.3L1472.6 886.9L1472.2 883.2L1468.5 883.9L1468.1 880.2L1464.4 880.8L1464.0 877.1L1460.3 877.7L1459.9 874.0L1456.2 874.6L1455.8 870.9L1452.1 871.5L1451.7 867.8L1448.0 868.5L1447.6 864.8L1443.9 865.4L1443.5 861.7L1439.8 862.3L1439.4 858.6L1435.7 859.2L1435.3 855.5L1431.6 856.1L1431.2 852.5L1427.5 853.1L1427.1 849.4L1423.4 850.0L1423.0 846.3L1419.3 846.9L1418.9 843.2L1415.2 843.8L1414.8 840.1L1411.1 840.8L1410.7 837.1L1407.1 837.7L1406.6 834.0L1403.0 834.6L1402.5 830.9L1398.9 831.5L1398.4 827.8L1394.8 828.4L1394.3 824.7L1390.7 825.4L1390.2 821.7L1386.6 822.3L1386.1 818.6L1382.5 819.2L1382.1 815.5L1378.4 816.1L1378.0 812.4L1374.3 813.0L1373.9 809.3L1370.2 810.0L1369.8 806.3L1366.1 806.9L1365.7 803.2Z"/>
<linearGradient id="s9g" gradientUnits="userSpaceOnUse" x1="1385.0" y1="800.0" x2="1495.0" y2="880.0"><stop offset="0" stop-color="#ea7e1c"/><stop offset=".5" stop-color="#e87014"/><stop offset="1" stop-color="#de620d"/></linearGradient>
</defs>
<rect width="1500" height="1195" fill="#fff"/>
<!-- string of the garland -->
<path d="M0.0 698.0 L24.6 735.7 L134.5 809.1 L152.2 818.0 L276.0 867.5 L306.1 875.9 L433.4 906.3 L452.3 910.0 L582.4 927.4 L608.8 929.5 L741.0 935.0 L764.5 934.4 L895.5 928.0 L916.3 927.0 L1045.3 907.0 L1076.6 900.0 L1203.0 865.7 L1222.0 862.7 L1342.5 813.0 L1362.0 803.8 L1477.3 739.5 L1500.0 722.0" fill="none" stroke="#f7f7f7" stroke-width="3" stroke-linejoin="round"/>
<!-- hanging bar -->
<rect x="227" y="60.5" width="1099" height="6.5" fill="#e6e6e6"/>
<g>
<use href="#b1" fill="url(#b1g)"/>
<use href="#b1" fill="url(#b1o0)"/>
<use href="#b1" fill="url(#b1k0)" filter="url(#spkA)" clip-path="url(#b1c)"/>
<use href="#b1" fill="url(#b1k1)" filter="url(#spkB)" clip-path="url(#b1c)" opacity=".6"/>
</g>
<g>
<use href="#b2" fill="url(#b2g)"/>
<use href="#b2" fill="url(#b2o0)"/>
<use href="#b2" fill="url(#b2o1)"/>
<use href="#b2" fill="url(#b2o2)"/>
<use href="#b2" fill="url(#b2k0)" filter="url(#spkA)" clip-path="url(#b2c)" opacity=".4"/>
<use href="#b2" fill="url(#b2k1)" filter="url(#spkB)" clip-path="url(#b2c)" opacity=".4"/>
</g>
<g>
<use href="#b3" fill="url(#b3g)"/>
<use href="#b3" fill="url(#b3k0)" filter="url(#spkV)" clip-path="url(#b3c)"/>
<use href="#b3" fill="url(#b3k1)" filter="url(#spkW)" clip-path="url(#b3c)"/>
<use href="#b3" fill="url(#b3k2)" filter="url(#spkB)" clip-path="url(#b3c)"/>
<use href="#b3" fill="url(#b3k3)" filter="url(#spkB)" clip-path="url(#b3c)"/>
</g>
<g>
<use href="#s0" fill="url(#s0g)"/>
<use href="#s0" fill="url(#s0o0)"/>
</g>
<g>
<use href="#s1" fill="url(#s1g)"/>
<use href="#s1" fill="url(#s1o0)"/>
</g>
<g>
<use href="#s2" fill="url(#s2g)"/>
<use href="#s2" fill="url(#s2o0)"/>
<use href="#s2" fill="url(#s2o1)"/>
<use href="#s2" fill="url(#s2k0)" filter="url(#spkS)" clip-path="url(#s2c)"/>
</g>
<g>
<use href="#s3" fill="url(#s3g)"/>
<use href="#s3" fill="url(#s3k0)" filter="url(#spkS)" clip-path="url(#s3c)"/>
</g>
<g>
<use href="#s4" fill="url(#s4g)"/>
<use href="#s4" fill="url(#s4o0)"/>
</g>
<g>
<use href="#s5" fill="url(#s5g)"/>
<use href="#s5" fill="url(#s5k0)" filter="url(#spkS)" clip-path="url(#s5c)"/>
<use href="#s5" fill="url(#s5k1)" filter="url(#spkB)" clip-path="url(#s5c)"/>
</g>
<g>
<use href="#s6" fill="url(#s6g)"/>
<use href="#s6" fill="url(#s6o0)"/>
<use href="#s6" fill="url(#s6k0)" filter="url(#spkS)" clip-path="url(#s6c)"/>
</g>
<g>
<use href="#s7" fill="url(#s7g)"/>
</g>
<g>
<use href="#s8" fill="url(#s8g)"/>
<use href="#s8" fill="url(#s8o0)"/>
<use href="#s8" fill="url(#s8k0)" filter="url(#spkS)" clip-path="url(#s8c)"/>
</g>
<g>
<use href="#s9" fill="url(#s9g)"/>
</g>
<!-- width dimension -->
<path class="ln" d="M241.5 5V24.5M241.5 14.7H352M459 14.7H576M576 5V24.5"/>
<text x="356.8" y="29.8" font-size="37.5" textLength="104" lengthAdjust="spacingAndGlyphs">5.9IN</text>
<!-- height dimension -->
<path class="ln" d="M172 72H191.7M182 72V181M182 285V405.5M172 405.5H191.7"/>
<text transform="translate(193.8 283.9) rotate(-90)" font-size="38.5" textLength="103.4" lengthAdjust="spacingAndGlyphs">7.9IN</text>
<!-- length dimension -->
<path class="ln" d="M128.4 1155.4V1192M128.4 1172H685M826 1172H1375.6M1375.6 1155.4V1192"/>
<text x="684.9" y="1187.6" font-size="49.5" textLength="147" lengthAdjust="spacingAndGlyphs">32.8FT</text>
</svg>
</body></html>
